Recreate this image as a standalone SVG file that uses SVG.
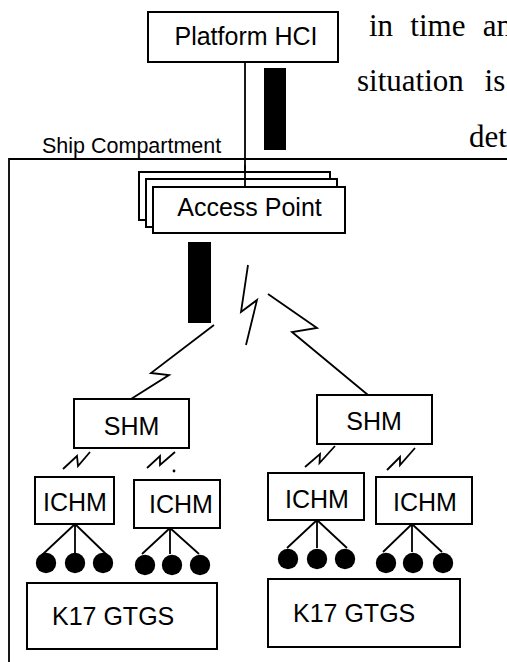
<svg xmlns="http://www.w3.org/2000/svg" width="507" height="662" viewBox="0 0 507 662">
<style>
.box{fill:#fff;stroke:#000;stroke-width:2}
.ln{fill:none;stroke:#000;stroke-width:1.8;stroke-linejoin:miter}
.lbl{font-family:"Liberation Sans",Arial,sans-serif;font-size:25px;fill:#000}
.mid{text-anchor:middle}
.serif{font-family:"Liberation Serif","Times New Roman",serif;font-size:31px;fill:#000}
.bar{fill:#000}
.dot{fill:#000}
</style>
<rect width="507" height="662" fill="#fff"/>

<g id="page-text">
<text class="serif" x="369" y="36" word-spacing="9.5">in time an</text>
<text class="serif" x="357" y="91" word-spacing="13">situation is</text>
<text class="serif" x="469" y="147">det</text>
</g>

<g id="compartment">
<path class="ln" d="M507,159 H9 V662"/>
<text x="42" y="153" style="font-family:'Liberation Sans',Arial,sans-serif;font-size:21.5px">Ship Compartment</text>
</g>

<g id="connectors">
<line class="ln" x1="245" y1="62" x2="245" y2="187"/>
<polyline class="ln" points="214,325 151,373 169,375 131,399"/>
<polyline class="ln" points="248,265 241,312 257,300 246,345"/>
<polyline class="ln" points="268,294 317,328 292,332 368,395"/>
<polyline class="ln" points="63,469 77,456 78,466 90,452"/>
<polyline class="ln" points="147,468 160,456 160,465 175,452"/>
<circle class="dot" cx="174" cy="471" r="1.4"/>
<polyline class="ln" points="305,467 320,454 319.5,463 335,446"/>
<polyline class="ln" points="387,470 400,457 400,465 415,448"/>
<path class="ln" d="M75,524 L42,555 M75,524 V553 M75,524 L107,555"/>
<path class="ln" d="M170,528 L142,554 M170,528 V554 M170,528 L199,554"/>
<path class="ln" d="M317,520 L287,548 M317,520 V548 M317,520 L347,548"/>
<path class="ln" d="M412,524 L383,552 M412,524 V552 M412,524 L442,552"/>
<rect class="bar" x="264" y="68" width="22" height="82"/>
<rect class="bar" x="188" y="242" width="23" height="81"/>
</g>

<g id="platform-hci">
<rect class="box" x="148" y="12" width="190" height="50"/>
<text class="lbl mid" x="246" y="45">Platform HCI</text>
</g>

<g id="access-point">
<rect class="box" x="139" y="172" width="191" height="48"/>
<rect class="box" x="146" y="179" width="191" height="48"/>
<line class="ln" x1="245" y1="165" x2="245" y2="187"/>
<rect class="box" x="153" y="187" width="192" height="46"/>
<text class="lbl mid" x="249.5" y="216">Access Point</text>
</g>

<g id="shm-left">
<rect class="box" x="74" y="399" width="115" height="49"/>
<text class="lbl mid" x="131.5" y="435">SHM</text>
</g>
<g id="shm-right">
<rect class="box" x="317" y="395" width="115" height="49"/>
<text class="lbl mid" x="374" y="430">SHM</text>
</g>

<g id="ichm-1">
<rect class="box" x="35" y="477" width="79" height="47"/>
<text class="lbl mid" x="75" y="511">ICHM</text>
</g>
<g id="ichm-2">
<rect class="box" x="134" y="480" width="86" height="48"/>
<text class="lbl mid" x="181" y="513">ICHM</text>
</g>
<g id="ichm-3">
<rect class="box" x="268" y="473" width="96" height="47"/>
<text class="lbl mid" x="317" y="508">ICHM</text>
</g>
<g id="ichm-4">
<rect class="box" x="376" y="477" width="96" height="47"/>
<text class="lbl mid" x="425" y="511">ICHM</text>
</g>

<g id="sensors-1">
<circle class="dot" cx="46" cy="563" r="10.2"/>
<circle class="dot" cx="75" cy="563" r="10.2"/>
<circle class="dot" cx="103" cy="563" r="10.2"/>
</g>
<g id="sensors-2">
<circle class="dot" cx="145" cy="565" r="10.2"/>
<circle class="dot" cx="172" cy="565" r="10.2"/>
<circle class="dot" cx="200" cy="565" r="10.2"/>
</g>
<g id="sensors-3">
<circle class="dot" cx="288" cy="559" r="10.2"/>
<circle class="dot" cx="317" cy="559" r="10.2"/>
<circle class="dot" cx="345" cy="559" r="10.2"/>
</g>
<g id="sensors-4">
<circle class="dot" cx="386" cy="563" r="10.2"/>
<circle class="dot" cx="413" cy="563" r="10.2"/>
<circle class="dot" cx="443" cy="563" r="10.2"/>
</g>

<g id="k17-left">
<rect class="box" x="27" y="583" width="190" height="66"/>
<text class="lbl" x="52" y="625">K17 GTGS</text>
</g>
<g id="k17-right">
<rect class="box" x="268" y="579" width="192" height="68"/>
<text class="lbl" x="293" y="622">K17 GTGS</text>
</g>
</svg>
